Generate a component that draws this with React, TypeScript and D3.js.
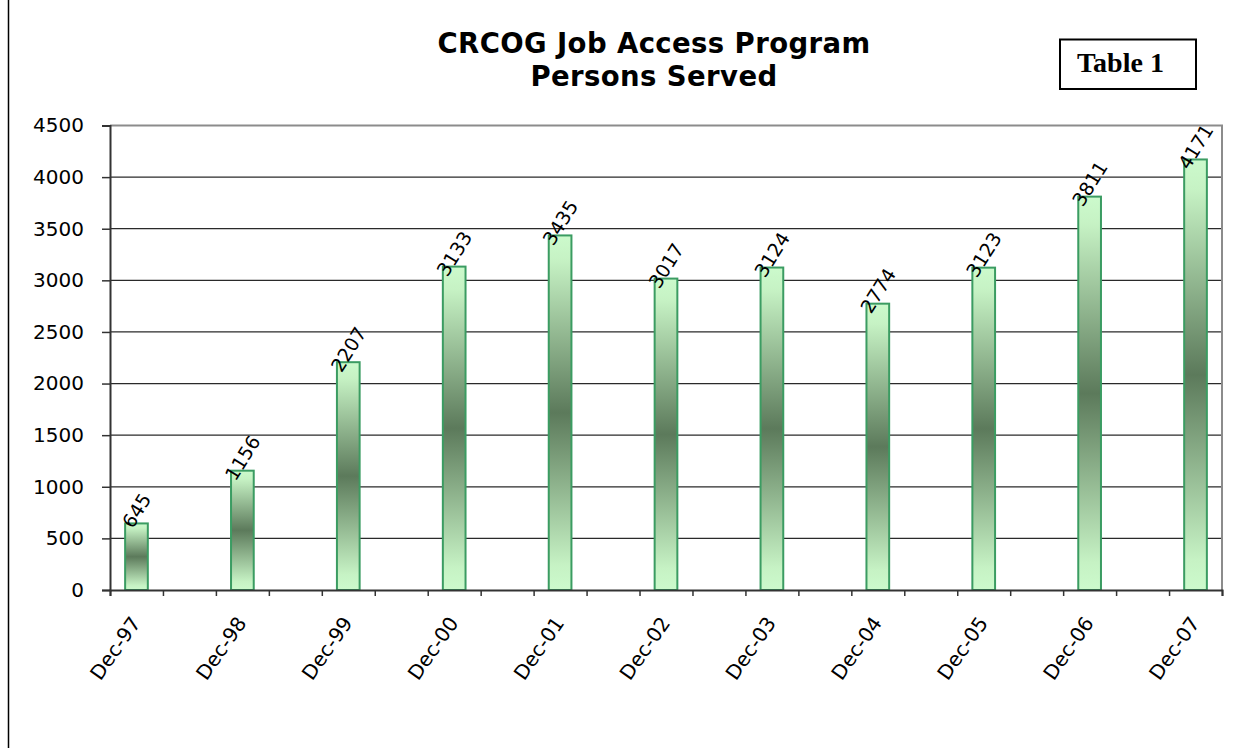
import React, { useRef, useEffect } from "react";
import * as d3 from "d3";

const categories = [
  "Dec-97", "Dec-98", "Dec-99", "Dec-00", "Dec-01", "Dec-02",
  "Dec-03", "Dec-04", "Dec-05", "Dec-06", "Dec-07",
];
const persons = [645, 1156, 2207, 3133, 3435, 3017, 3124, 2774, 3123, 3811, 4171];
const yTicks = [0, 500, 1000, 1500, 2000, 2500, 3000, 3500, 4000, 4500];
const titleLines = ["CRCOG Job Access Program", "Persons Served"];

const App = () => {
  const svgRef = useRef<SVGSVGElement>(null);
  const width = 1252;
  const height = 748;
  const margin = { left: 110, right: 1222, top: 125.5, bottom: 590 };

  useEffect(() => {
    const svg = d3.select(svgRef.current);
    svg.selectAll("*").remove();

    // half-year slots: each December gets a slot, with an empty slot between
    const slots = categories.length * 2 - 1;
    const x = d3.scaleLinear().domain([0, slots]).range([margin.left, margin.right]);
    const y = d3.scaleLinear().domain([0, 4500]).range([margin.bottom, margin.top]);
    const barW = 22.7;
    const font = "'DejaVu Sans', Tahoma, Verdana, sans-serif";

    const grad = svg
      .append("defs")
      .append("linearGradient")
      .attr("id", "barGrad")
      .attr("x1", 0).attr("y1", 0).attr("x2", 0).attr("y2", 1);
    [
      [0, "#ccfacc"],
      [0.07, "#c6f2c4"],
      [0.5, "#5c7a5b"],
      [0.93, "#c6f2c4"],
      [1, "#ccfacc"],
    ].forEach(([o, c]) => grad.append("stop").attr("offset", o).attr("stop-color", c));

    // left page rule
    svg.append("line")
      .attr("x1", 8.5).attr("x2", 8.5).attr("y1", 0).attr("y2", height)
      .attr("stroke", "#000").attr("stroke-width", 1.5);

    // title
    svg.append("text")
      .attr("x", 654).attr("y", 53)
      .attr("text-anchor", "middle")
      .attr("font-family", font).attr("font-weight", "bold").attr("font-size", 27.5)
      .attr("letter-spacing", 0.4)
      .selectAll("tspan")
      .data(titleLines)
      .join("tspan")
      .attr("x", 654)
      .attr("dy", (d, i) => (i === 0 ? 0 : 33))
      .text((d) => d);

    // Table 1 box
    svg.append("rect")
      .attr("x", 1060).attr("y", 39.5).attr("width", 136).attr("height", 49.5)
      .attr("fill", "#fff").attr("stroke", "#000").attr("stroke-width", 2);
    svg.append("text")
      .attr("x", 1077).attr("y", 72)
      .attr("font-family", "'Liberation Serif', 'Times New Roman', serif")
      .attr("font-weight", "bold").attr("font-size", 28)
      .text("Table 1");

    // grid
    svg.append("g")
      .selectAll("line")
      .data(yTicks.filter((t) => t > 0 && t < 4500))
      .join("line")
      .attr("x1", margin.left).attr("x2", margin.right)
      .attr("y1", (d) => y(d)).attr("y2", (d) => y(d))
      .attr("stroke", "#2a2a2a").attr("stroke-width", 1.2);

    // plot border (top, right)
    svg.append("path")
      .attr("d", `M${margin.left},${margin.top}H${margin.right}V${margin.bottom}`)
      .attr("fill", "none").attr("stroke", "#8c8c8c").attr("stroke-width", 2);

    // bars
    svg.append("g")
      .selectAll("rect")
      .data(persons)
      .join("rect")
      .attr("x", (d, i) => x(2 * i + 0.5) - barW / 2)
      .attr("y", (d) => y(d))
      .attr("width", barW)
      .attr("height", (d) => y(0) - y(d))
      .attr("fill", "url(#barGrad)")
      .attr("stroke", "#3b9c62")
      .attr("stroke-width", 2);

    // y axis
    const yAxis = svg.append("g").attr("transform", `translate(${margin.left},0)`)
      .call(d3.axisLeft(y).tickValues(yTicks).tickSize(8).tickPadding(18).tickFormat(d3.format("d")));
    yAxis.select(".domain").attr("stroke", "#333").attr("stroke-width", 2);
    yAxis.selectAll(".tick line").attr("stroke", "#333").attr("stroke-width", 1.5);
    yAxis.selectAll(".tick text")
      .attr("font-family", font).attr("font-size", 20).attr("fill", "#000");

    // x axis: ticks at every slot boundary
    const xAxis = svg.append("g").attr("transform", `translate(0,${margin.bottom})`)
      .call(d3.axisBottom(x).tickValues(d3.range(0, slots + 1)).tickSize(6).tickFormat(() => ""));
    xAxis.select(".domain").attr("stroke", "#333").attr("stroke-width", 2);
    xAxis.selectAll(".tick line").attr("stroke", "#333").attr("stroke-width", 1.5);

    // x labels
    svg.append("g")
      .selectAll("text")
      .data(categories)
      .join("text")
      .attr("transform", (d, i) => `translate(${x(2 * i + 0.5) + 5},${margin.bottom + 33}) rotate(-55)`)
      .attr("text-anchor", "end")
      .attr("font-family", font).attr("font-size", 20)
      .text((d) => d);

    // value labels
    svg.append("g")
      .selectAll("text")
      .data(persons)
      .join("text")
      .attr("transform", (d, i) => `translate(${x(2 * i + 0.5)},${y(d) - 13}) rotate(-58)`)
      .attr("text-anchor", "middle")
      .attr("dominant-baseline", "central")
      .attr("font-family", font).attr("font-size", 19)
      .text((d) => d);
  }, []);

  return (
    <svg
      ref={svgRef}
      width={width}
      height={height}
      style={{ position: "absolute", left: 0, top: 0, background: "#fff" }}
    />
  );
};

export default App;
